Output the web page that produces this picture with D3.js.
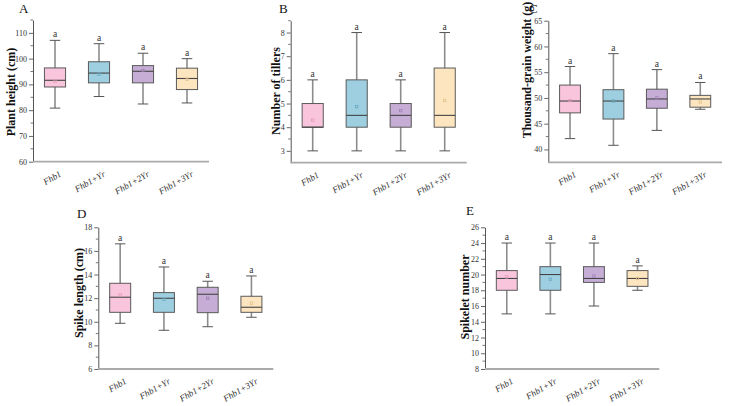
<!DOCTYPE html>
<html>
<head>
<meta charset="utf-8">
<script src="https://cdn.jsdelivr.net/npm/d3@7"></script>
<style>
  body { margin: 0; background: #fff; }
  svg { font-family: "Liberation Serif", "Times New Roman", serif; }
</style>
</head>
<body>
<div id="chart"></div>
<script>
var groups = ["Fhb1", "Fhb1+Yr", "Fhb1+2Yr", "Fhb1+3Yr"];
var fills = ["#f9c5dc", "#9dcfe1", "#c6add5", "#fde5bf"];
var meanColors = ["#e39ab9", "#6aa9c0", "#9f7fb6", "#e2c18d"];

// min, q1, median, q3, max, mean
var plantHeight = [
    [80.8, 89.0, 91.6, 96.4, 107.1, 91.3],
    [85.3, 90.6, 94.4, 98.8, 105.8, 94.0],
    [82.4, 90.6, 95.1, 97.3, 102.1, 95.4],
    [82.8, 88.0, 92.3, 96.3, 100.0, 92.0]
];
var tillers = [
    [3, 4, 4, 5, 6, 4.3],
    [3, 4, 4.5, 6, 8, 4.87],
    [3, 4, 4.5, 5, 6, 4.7],
    [3, 4, 4.5, 6.5, 8, 5.13]
];
var grainWeight = [
    [42.1, 47.1, 49.4, 52.5, 56.1, 49.5],
    [40.8, 45.9, 49.4, 51.6, 58.6, 49.4],
    [43.7, 48.0, 49.8, 51.7, 55.5, 50.0],
    [47.8, 48.2, 49.8, 50.5, 53.0, 49.2]
];
var spikeLength = [
    [9.87, 10.8, 12.08, 13.26, 16.6, 12.27],
    [9.28, 10.8, 11.99, 12.47, 14.64, 11.9],
    [9.58, 10.77, 12.33, 12.92, 13.43, 11.99],
    [10.38, 10.8, 11.23, 12.16, 13.88, 11.57]
];
var spikeletNumber = [
    [15, 18, 19.5, 20.5, 24, 19.7],
    [15, 18, 20, 21, 24, 19.4],
    [16, 19, 19.5, 21, 24, 19.8],
    [18, 18.5, 19.5, 20.5, 21.1, 19.5]
];
var letters = ["a", "a", "a", "a"];

var ticksA = [60, 70, 80, 90, 100, 110];
var ticksB = [3, 4, 5, 6, 7, 8];
var ticksC = [40, 45, 50, 55, 60, 65];
var ticksD = [6, 8, 10, 12, 14, 16, 18];
var ticksE = [8, 10, 12, 14, 16, 18, 20, 22, 24, 26];

var panels = [
    {tag: "A", title: "Plant height (cm)", data: plantHeight, ticks: ticksA, minor: 5, domain: [60, 115],
     x0: 33, x1: 209, yb: 161.7, yt: 20, tagX: 19, tagY: 13, titleX: 15, titleY: 92},
    {tag: "B", title: "Number of tillers", data: tillers, ticks: ticksB, minor: 0.5, domain: [2.5, 8.5],
     x0: 290.7, x1: 466.7, yb: 162.7, yt: 20.7, tagX: 279, tagY: 13, titleX: 280, titleY: 91},
    {tag: "C", title: "Thousand-grain weight (g)", data: grainWeight, ticks: ticksC, minor: 2.5, domain: [37.5, 65],
     x0: 548.3, x1: 722, yb: 162.3, yt: 20.7, tagX: 529, tagY: 13, titleX: 531, titleY: 70},
    {tag: "D", title: "Spike length (cm)", data: spikeLength, ticks: ticksD, minor: 1, domain: [6, 18],
     x0: 98.3, x1: 273.3, yb: 369, yt: 227.3, tagX: 77, tagY: 218, titleX: 83, titleY: 293},
    {tag: "E", title: "Spikelet number", data: spikeletNumber, ticks: ticksE, minor: 1, domain: [8, 26],
     x0: 485, x1: 659.3, yb: 369, yt: 227.3, tagX: 466, tagY: 215, titleX: 469, titleY: 297}
];

var svg = d3.select("#chart").append("svg")
    .attr("width", 729)
    .attr("height", 406);

panels.forEach(function(p) {
    var g = svg.append("g");

    var x = d3.scaleBand().domain(groups).range([p.x0, p.x1])
        .paddingInner(0.52).paddingOuter(0.26);
    var y = d3.scaleLinear().domain(p.domain).range([p.yb, p.yt]);

    // minor ticks
    var minorVals = d3.range(p.domain[0], p.domain[1] + 1e-9, p.minor)
        .filter(v => v >= p.ticks[0] - 1e-9 && p.ticks.indexOf(+v.toFixed(4)) < 0);
    g.selectAll(".minor").data(minorVals).enter().append("line")
        .attr("x1", p.x0).attr("x2", p.x0 - 2.5)
        .attr("y1", d => y(d)).attr("y2", d => y(d))
        .attr("stroke", "#555").attr("stroke-width", 0.8);

    var yAxis = g.append("g")
        .attr("transform", "translate(" + p.x0 + ",0)")
        .call(d3.axisLeft(y).tickValues(p.ticks).tickFormat(d3.format("d"))
            .tickSize(4).tickPadding(2).tickSizeOuter(0));
    yAxis.select(".domain").attr("stroke", "#555").attr("stroke-width", 1);
    yAxis.selectAll(".tick line").attr("stroke", "#555").attr("stroke-width", 0.9);
    yAxis.selectAll(".tick text")
        .attr("fill", "#333")
        .style("font-size", "8px")
        .style("font-family", "'Liberation Serif', serif");

    g.append("line")
        .attr("x1", p.x0).attr("x2", p.x1)
        .attr("y1", p.yb).attr("y2", p.yb)
        .attr("stroke", "#aaa").attr("stroke-width", 1.8);

    // x labels
    g.selectAll(".xlab").data(groups).enter().append("text")
        .attr("transform", d => "translate(" + (x(d) + x.bandwidth() / 2 + 7) + "," + (p.yb + 14) + ") rotate(-30)")
        .attr("text-anchor", "end")
        .style("font-style", "italic")
        .style("font-size", "9px")
        .attr("fill", "#333")
        .text(d => d);

    var bw = x.bandwidth();
    var boxes = g.selectAll(".box").data(p.data).enter().append("g");

    boxes.append("line")
        .attr("x1", (d, i) => x(groups[i]) + bw / 2)
        .attr("x2", (d, i) => x(groups[i]) + bw / 2)
        .attr("y1", d => y(d[0])).attr("y2", d => y(d[4]))
        .attr("stroke", "#8c8c8c").attr("stroke-width", 1.6);

    [0, 4].forEach(function(k) {
        boxes.append("line")
            .attr("x1", (d, i) => x(groups[i]) + bw / 2 - bw * 0.25)
            .attr("x2", (d, i) => x(groups[i]) + bw / 2 + bw * 0.25)
            .attr("y1", d => y(d[k])).attr("y2", d => y(d[k]))
            .attr("stroke", "#555").attr("stroke-width", 1);
    });

    boxes.append("rect")
        .attr("x", (d, i) => x(groups[i]))
        .attr("width", bw)
        .attr("y", d => y(d[3]))
        .attr("height", d => Math.max(0.5, y(d[1]) - y(d[3])))
        .attr("fill", (d, i) => fills[i])
        .attr("stroke", "#5a5a5a").attr("stroke-width", 1);

    boxes.append("line")
        .attr("x1", (d, i) => x(groups[i]))
        .attr("x2", (d, i) => x(groups[i]) + bw)
        .attr("y1", d => y(d[2])).attr("y2", d => y(d[2]))
        .attr("stroke", "#444").attr("stroke-width", 1.1);

    boxes.append("rect")
        .attr("x", (d, i) => x(groups[i]) + bw / 2 - 1.2)
        .attr("y", d => y(d[5]) - 1.2)
        .attr("width", 2.4).attr("height", 2.4)
        .attr("fill", "none")
        .attr("stroke", (d, i) => meanColors[i]).attr("stroke-width", 0.8);

    boxes.append("text")
        .attr("x", (d, i) => x(groups[i]) + bw / 2)
        .attr("y", d => y(d[4]) - 3)
        .attr("text-anchor", "middle")
        .style("font-size", "9.5px")
        .attr("fill", "#333")
        .text((d, i) => letters[i]);

    g.append("text")
        .attr("x", p.tagX).attr("y", p.tagY)
        .style("font-size", "13px")
        .attr("fill", "#111")
        .text(p.tag);

    g.append("text")
        .attr("transform", "translate(" + p.titleX + "," + p.titleY + ") rotate(-90)")
        .attr("text-anchor", "middle")
        .style("font-size", "12px")
        .style("font-weight", "bold")
        .attr("fill", "#111")
        .text(p.title);
});
</script>
</body>
</html>
